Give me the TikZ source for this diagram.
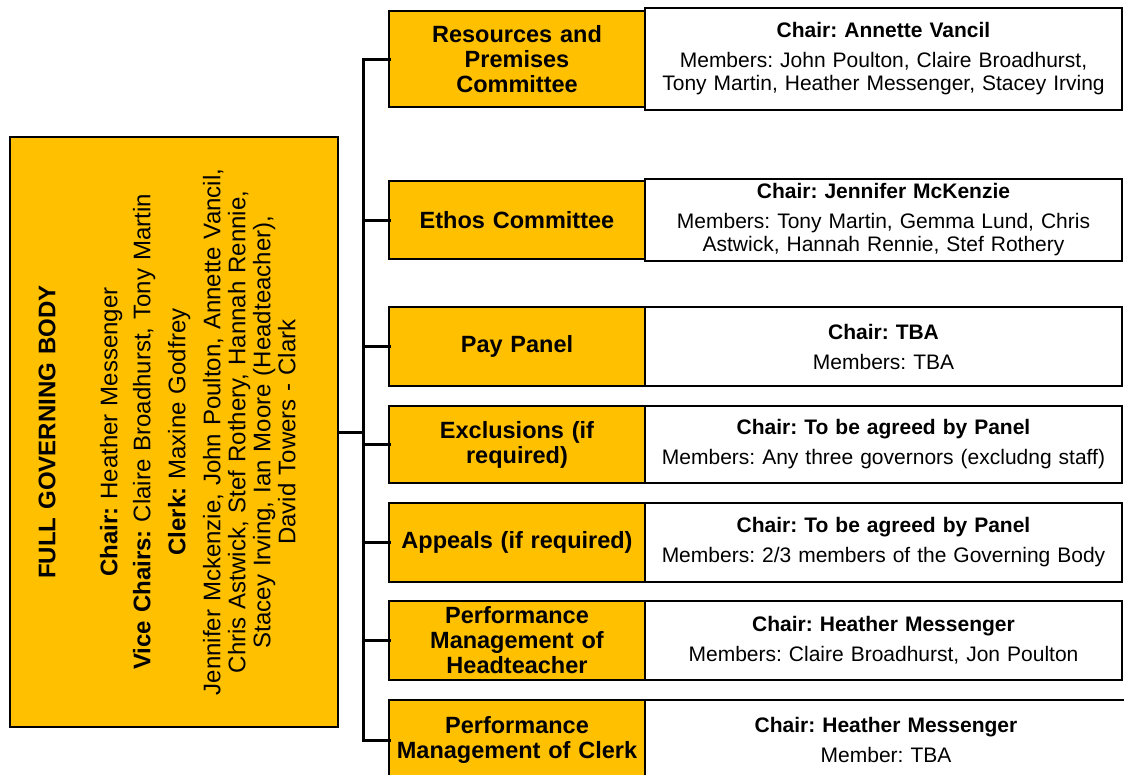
\documentclass[tikz,border=0pt]{standalone}
\usepackage{fontspec}
\setmainfont{Liberation Sans}
\frenchspacing
\definecolor{naranja}{RGB}{255,192,0}
\usetikzlibrary{positioning}
\tikzstyle{edge}  =[line width=3pt, line cap=rect]
\tikzstyle{gbox}  =[rectangle, draw, fill=naranja, line width=2.5pt,
                    outer sep=0pt, inner sep=2pt]
\tikzstyle{gtext} =[rotate=90, inner sep=0pt, align=center,
                    font=\fontsize{24}{25}\selectfont]
\tikzstyle{cbox}  =[rectangle, draw, fill=naranja, line width=2.5pt,
                    outer sep=0pt, inner sep=2pt, minimum width=256pt,
                    text width=250pt, align=center,
                    font=\fontsize{23.5}{25}\selectfont\bfseries]
\tikzstyle{mbox}  =[rectangle, draw, fill=white, line width=2.5pt,
                    outer sep=0pt, inner sep=2pt, minimum width=477pt,
                    text width=470pt, align=center,
                    font=\fontsize{21}{23}\selectfont]
\begin{document}
\begin{tikzpicture}[x=1pt, y=-1pt]
    \useasboundingbox (0,0) rectangle (1124,774);

    \draw (174,432) node (fgb) [gbox, minimum width=328pt, minimum height=590pt] {};
    \draw (167,432) node (fgbtext) [gtext, text width=560pt]
        {\textbf{FULL GOVERNING BODY}\\[37pt]
         \textbf{Chair:} Heather Messenger\\[8pt]
         \textbf{Vice Chairs:} Claire Broadhurst, Tony Martin\\[10pt]
         \textbf{Clerk:} Maxine Godfrey\\[10pt]
         Jennifer Mckenzie, John Poulton, Annette Vancil,\\
         Chris Astwick, Stef Rothery, Hannah Rennie,\\
         Stacey Irving, Ian Moore (Headteacher),\\
         David Towers - Clark};

    \draw (517,59) node (c1) [cbox, minimum height=96pt] {Resources and\\Premises\\Committee};
    \draw (517,220) node (c2) [cbox, minimum height=78pt] {Ethos Committee};
    \draw (517,346.5) node (c3) [cbox, minimum height=79pt] {Pay Panel};
    \draw (517,444.5) node (c4) [cbox, minimum height=77pt] {Exclusions (if\\required)};
    \draw (517,542.5) node (c5) [cbox, minimum height=79pt] {Appeals (if required)};
    \draw (517,640.5) node (c6) [cbox, minimum height=79pt] {Performance\\Management of\\Headteacher};
    \draw (517,740) node (c7) [cbox, minimum height=80pt] {Performance\\Management of Clerk};

    \node (d1) [mbox, minimum height=102pt, right=0pt of c1]
        {\textbf{Chair: Annette Vancil}\\[7pt]
         Members: John Poulton, Claire Broadhurst,\\
         Tony Martin, Heather Messenger, Stacey Irving};
    \node (d2) [mbox, minimum height=82pt, right=0pt of c2]
        {\textbf{Chair: Jennifer McKenzie}\\[7pt]
         Members: Tony Martin, Gemma Lund, Chris\\
         Astwick, Hannah Rennie, Stef Rothery};
    \node (d3) [mbox, minimum height=79pt, right=0pt of c3]
        {\textbf{Chair: TBA}\\[7pt] Members: TBA};
    \node (d4) [mbox, minimum height=77pt, right=0pt of c4]
        {\textbf{Chair: To be agreed by Panel}\\[7pt]
         Members: Any three governors (excludng staff)};
    \node (d5) [mbox, minimum height=79pt, right=0pt of c5]
        {\textbf{Chair: To be agreed by Panel}\\[7pt]
         Members: 2/3 members of the Governing Body};
    \node (d6) [mbox, minimum height=79pt, right=0pt of c6]
        {\textbf{Chair: Heather Messenger}\\[7pt]
         Members: Claire Broadhurst, Jon Poulton};
    \node (d7) [mbox, minimum height=80pt, minimum width=482pt, right=0pt of c7]
        {\textbf{Chair: Heather Messenger}\\[7pt] Member: TBA};

    % tree lines
    \coordinate (bus) at (363,432);
    \draw [edge] (fgb.east) -- (bus);
    \draw [edge] (bus |- c1.west) -- (bus |- c7.west);
    \foreach \i in {1,...,7}
        \draw [edge] (bus |- c\i.west) -- (c\i.west);

\end{tikzpicture}
\end{document}
